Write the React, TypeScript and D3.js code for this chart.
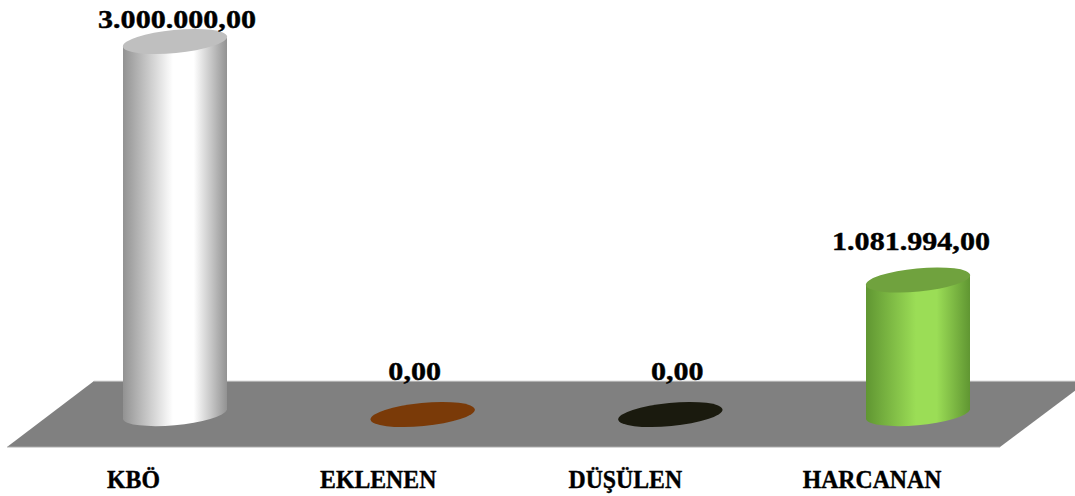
import { useRef, useEffect } from "react";
import * as d3 from "d3";

const categories: string[] = ["KBÖ", "EKLENEN", "DÜŞÜLEN", "HARCANAN"];
const values: number[] = [3000000, 0, 0, 1081994];
const capColors: string[] = ["#bfbfbf", "#7a3a08", "#1a1a0e", "#70a23e"];
const edgeColors: string[] = ["#929292", "#7a3a08", "#1a1a0e", "#609632"];
const midColors: string[] = ["#ffffff", "#7a3a08", "#1a1a0e", "#9bdd56"];

const CylinderChart: React.FC = () => {
    const svgRef = useRef<SVGSVGElement | null>(null);

    useEffect(() => {
        if (!svgRef.current) return;

        const width = 1075;
        const height = 496;
        const font = "'Liberation Serif', serif";
        const format = d3.format(",.2f");
        const formatTr = (v: number): string =>
            format(v).replace(/[.,]/g, (c) => (c === "," ? "." : ","));

        const x = d3
            .scalePoint<string>()
            .domain(categories)
            .range([175, 918]);
        const y = d3.scaleLinear().domain([0, 3000000]).range([414.5, 41.5]);

        // ellipse of the cylinder ends, tilted a little
        const rx = 52.4;
        const ry = 11.6;
        const tilt = -5.5;
        const halfW = 52;
        const tangentY = 4.7;

        const svg = d3.select(svgRef.current);
        svg.selectAll("*").remove();
        svg.attr("width", width)
            .attr("height", height)
            .attr("viewBox", `0 0 ${width} ${height}`)
            .style("position", "absolute")
            .style("left", 0)
            .style("top", 0)
            .style("background", "#fff");

        const defs = svg.append("defs");
        const grad = defs
            .selectAll("linearGradient")
            .data(categories)
            .join("linearGradient")
            .attr("id", (_d, i) => `side-${i}`)
            .attr("x1", 0)
            .attr("x2", 1)
            .attr("y1", 0)
            .attr("y2", 0);
        grad.append("stop")
            .attr("offset", "0%")
            .attr("stop-color", (_d, i) => edgeColors[i]);
        grad.append("stop")
            .attr("offset", "48%")
            .attr("stop-color", (_d, i) => midColors[i]);
        grad.append("stop")
            .attr("offset", "68%")
            .attr("stop-color", (_d, i) => midColors[i]);
        grad.append("stop")
            .attr("offset", "100%")
            .attr("stop-color", (_d, i) => edgeColors[i]);

        // floor
        svg.append("path")
            .attr("d", "M7,447 L94,381 L1088,381 L1000,447 Z")
            .attr("fill", "#808080");
        svg.append("path")
            .attr("d", "M94,381.2 H1075 M7,447.2 H1000")
            .attr("stroke", "#c4c4c4")
            .attr("stroke-width", 1)
            .attr("fill", "none");

        const bars = svg
            .append("g")
            .selectAll("g")
            .data(categories)
            .join("g")
            .attr("transform", (d) => `translate(${x(d)},0)`);

        bars.filter((_d, i) => values[i] > 0)
            .append("path")
            .attr("fill", (d) => `url(#side-${categories.indexOf(d)})`)
            .attr("d", (d) => {
                const top = y(values[categories.indexOf(d)]);
                const base = y(0);
                return (
                    `M${-halfW},${top + tangentY} L${-halfW},${base + tangentY} ` +
                    `A${rx},${ry} ${tilt} 0 0 ${halfW},${base - tangentY} ` +
                    `L${halfW},${top - tangentY} Z`
                );
            });

        bars.append("ellipse")
            .attr("rx", rx)
            .attr("ry", ry)
            .attr("fill", (_d, i) => capColors[i])
            .attr(
                "transform",
                (_d, i) => `translate(0,${y(values[i])}) rotate(${tilt})`,
            );

        // value labels were hand placed in the source, so nudge them
        const labelDx = [2, -8, 7, -7];
        const labelDy = [-13.5, -34.5, -34.5, -29.5];

        svg.append("g")
            .selectAll("text")
            .data(categories)
            .join("text")
            .attr("text-anchor", "middle")
            .attr("font-family", font)
            .attr("font-weight", "bold")
            .attr("font-size", 26)
            .attr("fill", "#000")
            .attr("stroke", "#000")
            .attr("stroke-width", 0.4)
            .attr(
                "transform",
                (d, i) =>
                    `translate(${(x(d) ?? 0) + labelDx[i]},${y(values[i]) + labelDy[i]}) scale(1.157,1)`,
            )
            .text((_d, i) => formatTr(values[i]));

        const categoryDx = [-41.5, -44.5, -45, -46];

        svg.append("g")
            .selectAll("text")
            .data(categories)
            .join("text")
            .attr("text-anchor", "middle")
            .attr("font-family", font)
            .attr("font-weight", "bold")
            .attr("font-size", 26)
            .attr("fill", "#000")
            .attr("stroke", "#000")
            .attr("stroke-width", 0.4)
            .attr(
                "transform",
                (d, i) =>
                    `translate(${(x(d) ?? 0) + categoryDx[i]},488) scale(0.915,1)`,
            )
            .text((d) => d);
    }, []);

    return <svg ref={svgRef} />;
};

export default function App() {
    return <CylinderChart />;
}
